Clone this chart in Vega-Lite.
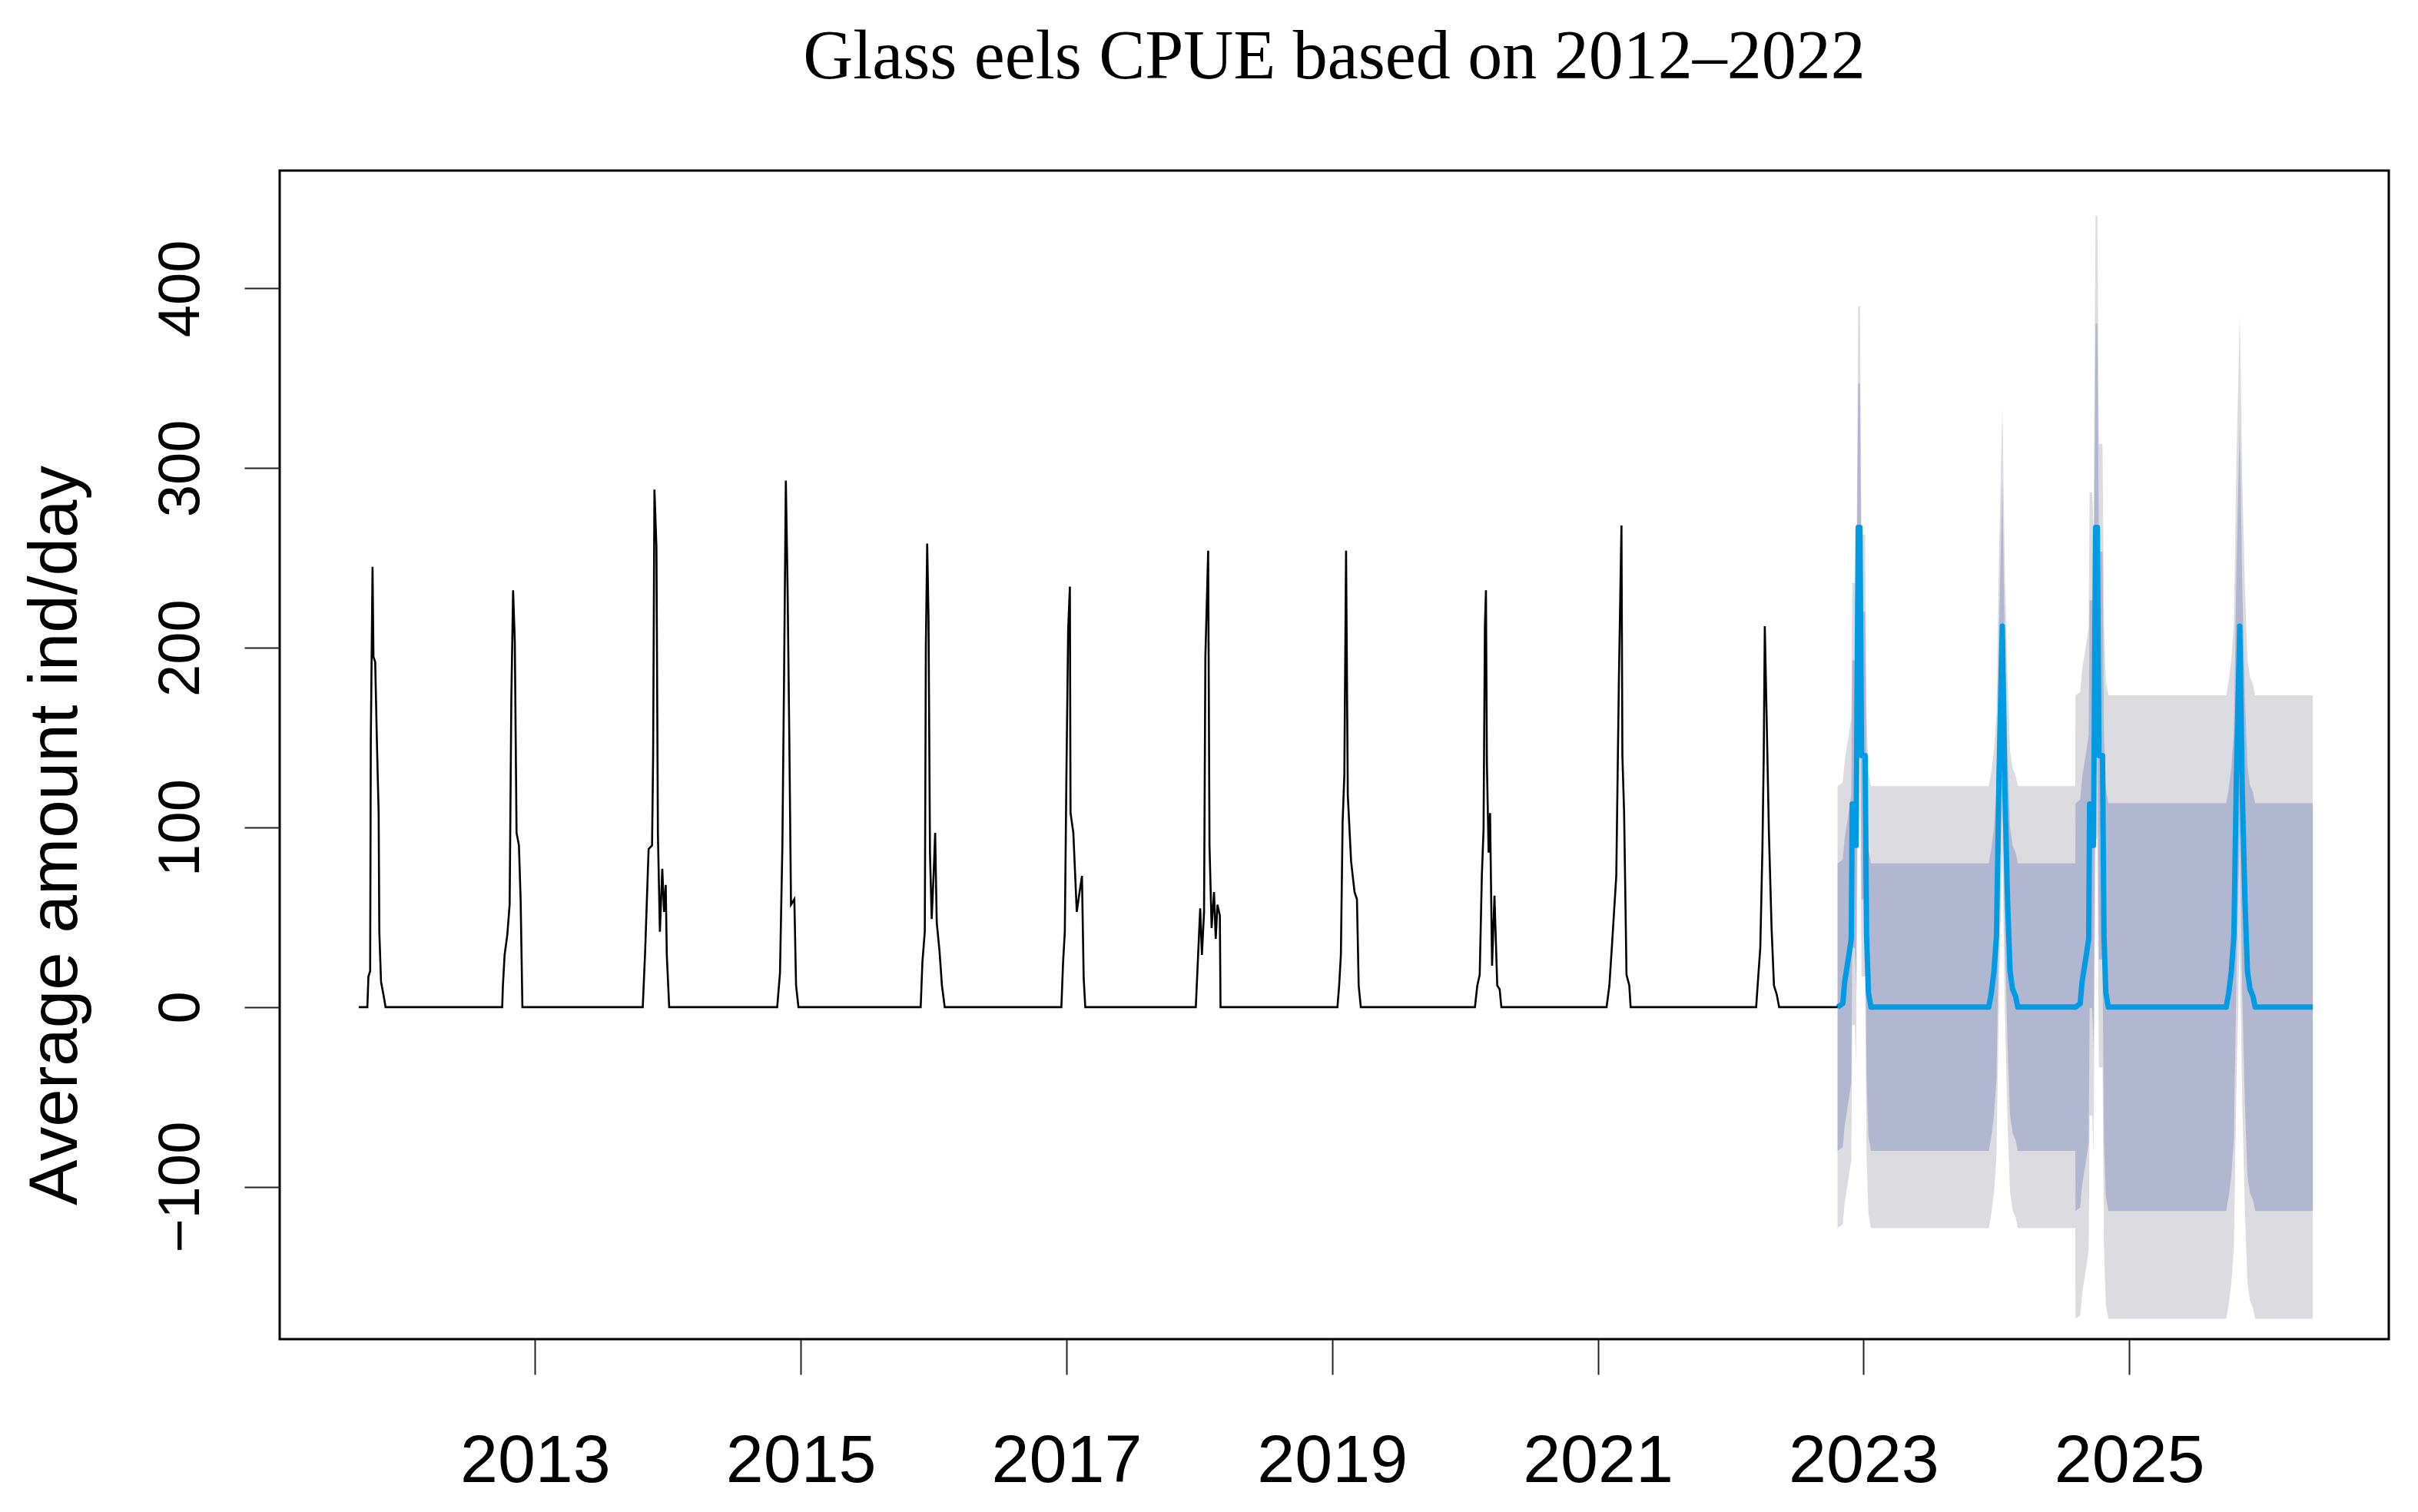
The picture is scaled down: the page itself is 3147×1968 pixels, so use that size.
{
  "$schema": "https://vega.github.io/schema/vega-lite/v6.json",
  "width": 2745,
  "height": 1521,
  "autosize": {"type": "none"},
  "padding": {"left": 364, "top": 222, "right": 38, "bottom": 225},
  "background": "white",
  "config": {
    "view": {"stroke": "black", "strokeWidth": 3},
    "font": "Liberation Sans"
  },
  "title": {
    "text": "Glass eels CPUE based on 2012–2022",
    "font": "Liberation Serif",
    "fontSize": 90,
    "fontWeight": "normal",
    "color": "black",
    "anchor": "middle",
    "baseline": "alphabetic",
    "offset": 30,
    "limit": 0
  },
  "datasets": {
    "hist": [
      {"t": 2011.673, "v": 0},
      {"t": 2011.738, "v": 0}, {"t": 2011.746, "v": 17}, {"t": 2011.759, "v": 20}, {"t": 2011.764, "v": 149}, {"t": 2011.777, "v": 245}, {"t": 2011.784, "v": 195}, {"t": 2011.797, "v": 192}, {"t": 2011.810, "v": 147}, {"t": 2011.823, "v": 108}, {"t": 2011.828, "v": 42}, {"t": 2011.841, "v": 14}, {"t": 2011.859, "v": 7}, {"t": 2011.875, "v": 0},
      {"t": 2012.753, "v": 0}, {"t": 2012.758, "v": 11.5}, {"t": 2012.771, "v": 29}, {"t": 2012.791, "v": 40}, {"t": 2012.809, "v": 57}, {"t": 2012.822, "v": 173}, {"t": 2012.835, "v": 232}, {"t": 2012.848, "v": 203}, {"t": 2012.861, "v": 97}, {"t": 2012.879, "v": 90}, {"t": 2012.892, "v": 59}, {"t": 2012.905, "v": 0},
      {"t": 2013.811, "v": 0}, {"t": 2013.829, "v": 31}, {"t": 2013.855, "v": 88}, {"t": 2013.881, "v": 90}, {"t": 2013.889, "v": 140}, {"t": 2013.899, "v": 288}, {"t": 2013.914, "v": 256}, {"t": 2013.925, "v": 97}, {"t": 2013.940, "v": 42}, {"t": 2013.958, "v": 77}, {"t": 2013.971, "v": 53}, {"t": 2013.984, "v": 68}, {"t": 2013.992, "v": 29}, {"t": 2014.010, "v": 0},
      {"t": 2014.823, "v": 0}, {"t": 2014.844, "v": 19}, {"t": 2014.862, "v": 90}, {"t": 2014.875, "v": 186}, {"t": 2014.888, "v": 293}, {"t": 2014.901, "v": 234}, {"t": 2014.914, "v": 151}, {"t": 2014.927, "v": 57}, {"t": 2014.952, "v": 60}, {"t": 2014.965, "v": 12}, {"t": 2014.983, "v": 0},
      {"t": 2015.903, "v": 0}, {"t": 2015.916, "v": 25}, {"t": 2015.934, "v": 42}, {"t": 2015.942, "v": 201}, {"t": 2015.952, "v": 258}, {"t": 2015.962, "v": 217}, {"t": 2015.973, "v": 86}, {"t": 2015.986, "v": 49}, {"t": 2016.001, "v": 75}, {"t": 2016.012, "v": 97}, {"t": 2016.024, "v": 47}, {"t": 2016.045, "v": 31}, {"t": 2016.063, "v": 12}, {"t": 2016.084, "v": 0},
      {"t": 2016.962, "v": 0}, {"t": 2016.975, "v": 25}, {"t": 2016.988, "v": 42}, {"t": 2017.000, "v": 129}, {"t": 2017.013, "v": 210}, {"t": 2017.026, "v": 234}, {"t": 2017.031, "v": 108}, {"t": 2017.052, "v": 97}, {"t": 2017.078, "v": 53}, {"t": 2017.099, "v": 64}, {"t": 2017.117, "v": 73}, {"t": 2017.130, "v": 16}, {"t": 2017.142, "v": 0},
      {"t": 2017.974, "v": 0}, {"t": 2017.989, "v": 25}, {"t": 2018.007, "v": 55}, {"t": 2018.020, "v": 29}, {"t": 2018.036, "v": 53}, {"t": 2018.046, "v": 195}, {"t": 2018.067, "v": 254}, {"t": 2018.077, "v": 90}, {"t": 2018.093, "v": 44}, {"t": 2018.111, "v": 64}, {"t": 2018.124, "v": 38}, {"t": 2018.137, "v": 57}, {"t": 2018.155, "v": 51}, {"t": 2018.160, "v": 0},
      {"t": 2019.040, "v": 0}, {"t": 2019.053, "v": 12}, {"t": 2019.066, "v": 29}, {"t": 2019.079, "v": 103}, {"t": 2019.092, "v": 129}, {"t": 2019.105, "v": 254}, {"t": 2019.118, "v": 118}, {"t": 2019.143, "v": 81}, {"t": 2019.169, "v": 64}, {"t": 2019.187, "v": 60}, {"t": 2019.200, "v": 12}, {"t": 2019.216, "v": 0},
      {"t": 2020.075, "v": 0}, {"t": 2020.093, "v": 12}, {"t": 2020.111, "v": 18}, {"t": 2020.127, "v": 73}, {"t": 2020.140, "v": 99}, {"t": 2020.150, "v": 212}, {"t": 2020.158, "v": 232}, {"t": 2020.165, "v": 136}, {"t": 2020.178, "v": 86}, {"t": 2020.189, "v": 108}, {"t": 2020.204, "v": 23}, {"t": 2020.222, "v": 62}, {"t": 2020.243, "v": 12}, {"t": 2020.261, "v": 10}, {"t": 2020.274, "v": 0},
      {"t": 2021.066, "v": 0}, {"t": 2021.087, "v": 12}, {"t": 2021.108, "v": 36}, {"t": 2021.139, "v": 73}, {"t": 2021.159, "v": 184}, {"t": 2021.178, "v": 268}, {"t": 2021.185, "v": 140}, {"t": 2021.198, "v": 108}, {"t": 2021.216, "v": 18}, {"t": 2021.237, "v": 12}, {"t": 2021.247, "v": 0},
      {"t": 2022.192, "v": 0}, {"t": 2022.203, "v": 12}, {"t": 2022.223, "v": 33}, {"t": 2022.239, "v": 88}, {"t": 2022.249, "v": 140}, {"t": 2022.257, "v": 212}, {"t": 2022.270, "v": 164}, {"t": 2022.288, "v": 97}, {"t": 2022.308, "v": 44}, {"t": 2022.326, "v": 12}, {"t": 2022.347, "v": 7}, {"t": 2022.365, "v": 0},
      {"t": 2022.805, "v": 0}
    ],
    "fc": [
      {"t": 2022.805, "m": 0, "lo80": -80, "hi80": 80, "lo95": -123, "hi95": 123},
      {"t": 2022.844, "m": 2, "lo80": -78, "hi80": 82, "lo95": -121, "hi95": 125},
      {"t": 2022.858, "m": 14, "lo80": -66, "hi80": 94, "lo95": -109, "hi95": 137},
      {"t": 2022.892, "m": 30, "lo80": -50, "hi80": 110, "lo95": -93, "hi95": 153},
      {"t": 2022.908, "m": 38, "lo80": -42, "hi80": 118, "lo95": -85, "hi95": 161},
      {"t": 2022.915, "m": 113, "lo80": 33, "hi80": 193, "lo95": -10, "hi95": 236},
      {"t": 2022.935, "m": 113, "lo80": 33, "hi80": 193, "lo95": -10, "hi95": 236},
      {"t": 2022.944, "m": 90, "lo80": 10, "hi80": 170, "lo95": -33, "hi95": 213},
      {"t": 2022.960, "m": 267, "lo80": 187, "hi80": 347, "lo95": 144, "hi95": 390},
      {"t": 2022.973, "m": 267, "lo80": 187, "hi80": 347, "lo95": 144, "hi95": 390},
      {"t": 2022.985, "m": 140, "lo80": 60, "hi80": 220, "lo95": 17, "hi95": 263},
      {"t": 2023.012, "m": 140, "lo80": 60, "hi80": 220, "lo95": 17, "hi95": 263},
      {"t": 2023.023, "m": 40, "lo80": -40, "hi80": 120, "lo95": -83, "hi95": 163},
      {"t": 2023.037, "m": 8, "lo80": -72, "hi80": 88, "lo95": -115, "hi95": 131},
      {"t": 2023.056, "m": 0, "lo80": -80, "hi80": 80, "lo95": -123, "hi95": 123},
      {"t": 2023.943, "m": 0, "lo80": -80, "hi80": 80, "lo95": -123, "hi95": 123},
      {"t": 2023.962, "m": 8, "lo80": -72, "hi80": 88, "lo95": -115, "hi95": 131},
      {"t": 2023.982, "m": 20, "lo80": -60, "hi80": 100, "lo95": -103, "hi95": 143},
      {"t": 2024.001, "m": 40, "lo80": -40, "hi80": 120, "lo95": -83, "hi95": 163},
      {"t": 2024.020, "m": 130, "lo80": 50, "hi80": 210, "lo95": 7, "hi95": 253},
      {"t": 2024.045, "m": 212, "lo80": 132, "hi80": 292, "lo95": 89, "hi95": 335},
      {"t": 2024.064, "m": 120, "lo80": 40, "hi80": 200, "lo95": -3, "hi95": 243},
      {"t": 2024.084, "m": 60, "lo80": -20, "hi80": 140, "lo95": -63, "hi95": 183},
      {"t": 2024.103, "m": 20, "lo80": -60, "hi80": 100, "lo95": -103, "hi95": 143},
      {"t": 2024.122, "m": 10, "lo80": -70, "hi80": 90, "lo95": -113, "hi95": 133},
      {"t": 2024.145, "m": 6, "lo80": -74, "hi80": 86, "lo95": -117, "hi95": 129},
      {"t": 2024.161, "m": 0, "lo80": -80, "hi80": 80, "lo95": -123, "hi95": 123},
      {"t": 2024.594, "m": 0, "lo80": -80, "hi80": 80, "lo95": -123, "hi95": 123},
      {"t": 2024.596, "m": 0, "lo80": -113.5, "hi80": 113.5, "lo95": -173.5, "hi95": 173.5},
      {"t": 2024.631, "m": 2, "lo80": -111.5, "hi80": 115.5, "lo95": -171.5, "hi95": 175.5},
      {"t": 2024.645, "m": 14, "lo80": -99.5, "hi80": 127.5, "lo95": -159.5, "hi95": 187.5},
      {"t": 2024.679, "m": 30, "lo80": -83.5, "hi80": 143.5, "lo95": -143.5, "hi95": 203.5},
      {"t": 2024.695, "m": 38, "lo80": -75.5, "hi80": 151.5, "lo95": -135.5, "hi95": 211.5},
      {"t": 2024.702, "m": 113, "lo80": -0.5, "hi80": 226.5, "lo95": -60.5, "hi95": 286.5},
      {"t": 2024.722, "m": 113, "lo80": -0.5, "hi80": 226.5, "lo95": -60.5, "hi95": 286.5},
      {"t": 2024.731, "m": 90, "lo80": -23.5, "hi80": 203.5, "lo95": -83.5, "hi95": 263.5},
      {"t": 2024.747, "m": 267, "lo80": 153.5, "hi80": 380.5, "lo95": 93.5, "hi95": 440.5},
      {"t": 2024.760, "m": 267, "lo80": 153.5, "hi80": 380.5, "lo95": 93.5, "hi95": 440.5},
      {"t": 2024.772, "m": 140, "lo80": 26.5, "hi80": 253.5, "lo95": -33.5, "hi95": 313.5},
      {"t": 2024.799, "m": 140, "lo80": 26.5, "hi80": 253.5, "lo95": -33.5, "hi95": 313.5},
      {"t": 2024.810, "m": 40, "lo80": -73.5, "hi80": 153.5, "lo95": -133.5, "hi95": 213.5},
      {"t": 2024.824, "m": 8, "lo80": -105.5, "hi80": 121.5, "lo95": -165.5, "hi95": 181.5},
      {"t": 2024.843, "m": 0, "lo80": -113.5, "hi80": 113.5, "lo95": -173.5, "hi95": 173.5},
      {"t": 2025.730, "m": 0, "lo80": -113.5, "hi80": 113.5, "lo95": -173.5, "hi95": 173.5},
      {"t": 2025.749, "m": 8, "lo80": -105.5, "hi80": 121.5, "lo95": -165.5, "hi95": 181.5},
      {"t": 2025.769, "m": 20, "lo80": -93.5, "hi80": 133.5, "lo95": -153.5, "hi95": 193.5},
      {"t": 2025.788, "m": 40, "lo80": -73.5, "hi80": 153.5, "lo95": -133.5, "hi95": 213.5},
      {"t": 2025.807, "m": 130, "lo80": 16.5, "hi80": 243.5, "lo95": -43.5, "hi95": 303.5},
      {"t": 2025.832, "m": 212, "lo80": 98.5, "hi80": 325.5, "lo95": 38.5, "hi95": 385.5},
      {"t": 2025.851, "m": 120, "lo80": 6.5, "hi80": 233.5, "lo95": -53.5, "hi95": 293.5},
      {"t": 2025.871, "m": 60, "lo80": -53.5, "hi80": 173.5, "lo95": -113.5, "hi95": 233.5},
      {"t": 2025.890, "m": 20, "lo80": -93.5, "hi80": 133.5, "lo95": -153.5, "hi95": 193.5},
      {"t": 2025.909, "m": 10, "lo80": -103.5, "hi80": 123.5, "lo95": -163.5, "hi95": 183.5},
      {"t": 2025.932, "m": 6, "lo80": -107.5, "hi80": 119.5, "lo95": -167.5, "hi95": 179.5},
      {"t": 2025.948, "m": 0, "lo80": -113.5, "hi80": 113.5, "lo95": -173.5, "hi95": 173.5},
      {"t": 2026.382, "m": 0, "lo80": -113.5, "hi80": 113.5, "lo95": -173.5, "hi95": 173.5}
    ]
  },
  "layer": [
    {
      "data": {"name": "fc"},
      "mark": {"type": "area", "color": "#DBDBE0", "opacity": 1},
      "encoding": {
        "x": {
          "field": "t", "type": "quantitative", "title": null,
          "scale": {"domain": [2011.078, 2026.954], "nice": false, "zero": false},
          "axis": {
            "values": [2013, 2015, 2017, 2019, 2021, 2023, 2025],
            "format": "d", "domain": false, "grid": false,
            "tickSize": 46, "tickWidth": 2, "tickColor": "#222222",
            "labelFont": "Liberation Sans", "labelFontSize": 88, "labelColor": "black",
            "labelBaseline": "alphabetic", "labelPadding": 139, "labelOverlap": false,
            "labelLimit": 0
          }
        },
        "y": {
          "field": "lo95", "type": "quantitative", "title": "Average amount ind/day",
          "scale": {"domain": [-184.8, 465.6], "nice": false, "zero": false},
          "axis": {
            "values": [-100, 0, 100, 200, 300, 400],
            "domain": false, "grid": false,
            "tickSize": 46, "tickWidth": 2, "tickColor": "#222222",
            "labelFont": "Liberation Sans", "labelFontSize": 76, "labelColor": "black",
            "labelAngle": -90, "labelAlign": "center", "labelBaseline": "alphabetic",
            "labelPadding": 60, "labelOverlap": false, "labelLimit": 0,
            "titleFont": "Liberation Sans", "titleFontSize": 89, "titleFontWeight": "normal",
            "titleColor": "black", "titleAngle": 270, "titleAlign": "center",
            "titleBaseline": "alphabetic", "titleX": -265, "titleY": 865, "titleLimit": 0
          }
        },
        "y2": {"field": "hi95"}
      }
    },
    {
      "data": {"name": "fc"},
      "mark": {"type": "area", "color": "#B1B7D1", "opacity": 1},
      "encoding": {
        "x": {"field": "t", "type": "quantitative", "title": null},
        "y": {"field": "lo80", "type": "quantitative", "title": "Average amount ind/day"},
        "y2": {"field": "hi80"}
      }
    },
    {
      "data": {"name": "fc"},
      "mark": {"type": "line", "color": "#009BE3", "strokeWidth": 7, "strokeJoin": "round"},
      "encoding": {
        "x": {"field": "t", "type": "quantitative", "title": null},
        "y": {"field": "m", "type": "quantitative", "title": "Average amount ind/day"}
      }
    },
    {
      "data": {"name": "hist"},
      "mark": {"type": "line", "color": "black", "strokeWidth": 2.6},
      "encoding": {
        "x": {"field": "t", "type": "quantitative", "title": null},
        "y": {"field": "v", "type": "quantitative", "title": "Average amount ind/day"}
      }
    }
  ]
}
